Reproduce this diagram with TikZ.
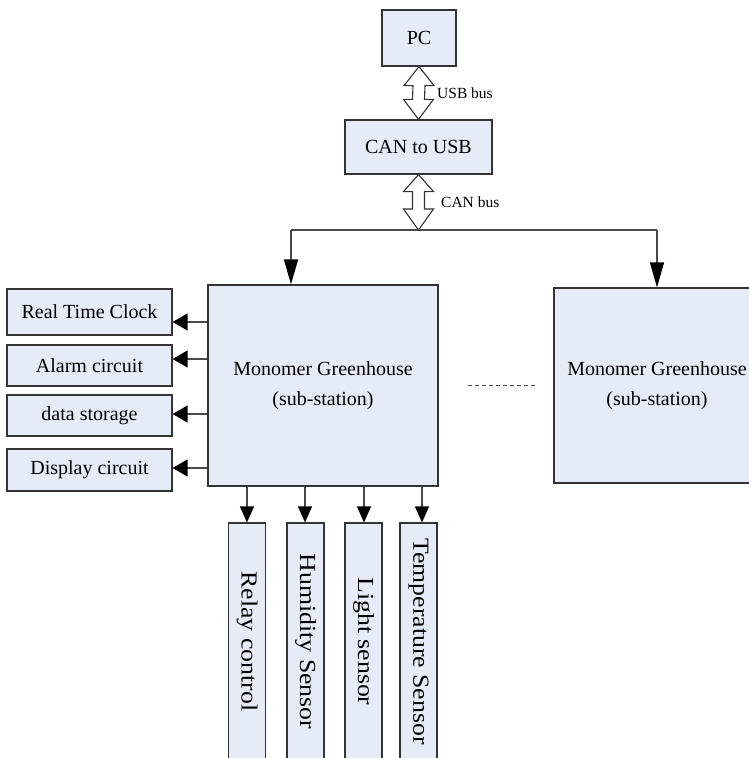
\documentclass[tikz,border=0pt]{standalone}
\usepackage{fontspec}
\setmainfont{Liberation Serif}
\usetikzlibrary{calc,arrows.meta}
\definecolor{boxfill}{HTML}{E5ECF8}
\definecolor{boxline}{HTML}{333333}
\definecolor{connline}{HTML}{4A4A4A}
\tikzset{
  box/.style={draw=boxline, fill=boxfill, line width=1.2pt, inner sep=0pt, font=\fontsize{20}{30}\selectfont, align=center},
  vbox/.style={box, minimum width=37pt, minimum height=237pt},
  vlabel/.style={rotate=-90, inner sep=0pt, font=\fontsize{23}{26}\selectfont},
  conn/.style={draw=connline, line width=1.3pt},
  downtip/.style={conn, -{Triangle[length=25pt,width=14pt,color=black]}},
  smalldowntip/.style={conn, -{Triangle[length=16pt,width=14pt,color=black]}},
  lefttip/.style={conn, -{Triangle[length=15pt,width=17pt,color=black]}},
  hollow/.style={draw=boxline, fill=white, line width=1.1pt, line join=miter},
  buslabel/.style={anchor=west, inner sep=0pt, font=\fontsize{15.5}{18}\selectfont}
}
\newcommand{\vstretch}[1]{\scalebox{1.12}[1]{#1}}
\begin{document}
\begin{tikzpicture}[x=1pt, y=-1pt]
\useasboundingbox (0,0) rectangle (749,758);
\clip (0,0) rectangle (749,758);

% top boxes
\node[box, minimum width=74pt, minimum height=56pt] (pc) at (419,38) {PC};
\node[box, minimum width=147pt, minimum height=54pt] (can) at (418.5,147) {CAN to USB};

% main stations
\node[box, minimum width=230pt, minimum height=201pt] (main) at (323,385.5) {Monomer Greenhouse\\(sub-station)};
\node[box, minimum width=206pt, minimum height=195pt] (sub) at (657,385.5) {Monomer Greenhouse\\(sub-station)};

% left peripherals
\node[box, minimum width=165pt, minimum height=46pt] (rtc) at (89.5,312) {Real Time Clock};
\node[box, minimum width=165pt, minimum height=41pt] (alarm) at (89.5,365.5) {Alarm circuit};
\node[box, minimum width=165pt, minimum height=41pt] (data) at (89.5,415.5) {data storage};
\node[box, minimum width=165pt, minimum height=42pt] (disp) at (89.5,470) {Display circuit};

% sensors
\node[vbox] (relay) at (247,641.5) {};
\node[vlabel] (relaylbl) at (relay) {\vstretch{Relay control}};
\node[vbox] (hum) at (305.5,641.5) {};
\node[vlabel] (humlbl) at (hum) {\vstretch{Humidity Sensor}};
\node[vbox] (light) at (363.5,641.5) {};
\node[vlabel] (lightlbl) at (light) {\vstretch{Light sensor}};
\node[vbox] (temp) at (418.5,641.5) {};
\node[vlabel] (templbl) at (temp) {\vstretch{Temperature Sensor}};

% block arrows
\draw[hollow] (pc.south) -- ($(pc.south)+(15,19)$) -- ($(pc.south)+(6,19)$)
  -- ($(can.north)+(6,-20)$) -- ($(can.north)+(15,-20)$) -- (can.north)
  -- ($(can.north)+(-15,-20)$) -- ($(can.north)+(-6,-20)$)
  -- ($(pc.south)+(-6,19)$) -- ($(pc.south)+(-15,19)$) -- cycle;
\node[buslabel] (usblbl) at (437,93) {USB bus};

\coordinate (bus) at (418.5,230);
\coordinate (busL) at (291,230);
\coordinate (busR) at (657,230);
\draw[hollow] (can.south) -- ($(can.south)+(15,17)$) -- ($(can.south)+(6,17)$)
  -- ($(bus)+(6,-21)$) -- ($(bus)+(15,-21)$) -- (bus)
  -- ($(bus)+(-15,-21)$) -- ($(bus)+(-6,-21)$)
  -- ($(can.south)+(-6,17)$) -- ($(can.south)+(-15,17)$) -- cycle;
\node[buslabel] (canlbl) at (441,202) {CAN bus};

% bus
\draw[conn] (busL) -- (busR);
\draw[downtip] (busL) -- (busL |- main.north);
\draw[downtip] (busR) -- (sub.north);

% dashed link
\draw[connline, line width=1.1pt, dash pattern=on 4pt off 3pt] ([xshift=29pt]main.east) -- ([xshift=-16pt]sub.west);

% left arrows
\draw[lefttip] (main.west |- 0,322) -- (rtc.east |- 0,322);
\draw[lefttip] (main.west |- 0,359) -- (alarm.east |- 0,359);
\draw[lefttip] (main.west |- 0,414) -- (data.east |- 0,414);
\draw[lefttip] (main.west |- 0,468) -- (disp.east |- 0,468);

% down arrows
\draw[smalldowntip] (main.south -| relay) -- (relay.north);
\draw[smalldowntip] (main.south -| 305,0) -- (hum.north -| 305,0);
\draw[smalldowntip] (main.south -| 364,0) -- (light.north -| 364,0);
\draw[smalldowntip] (main.south -| 422,0) -- (temp.north -| 422,0);
\end{tikzpicture}
\end{document}
